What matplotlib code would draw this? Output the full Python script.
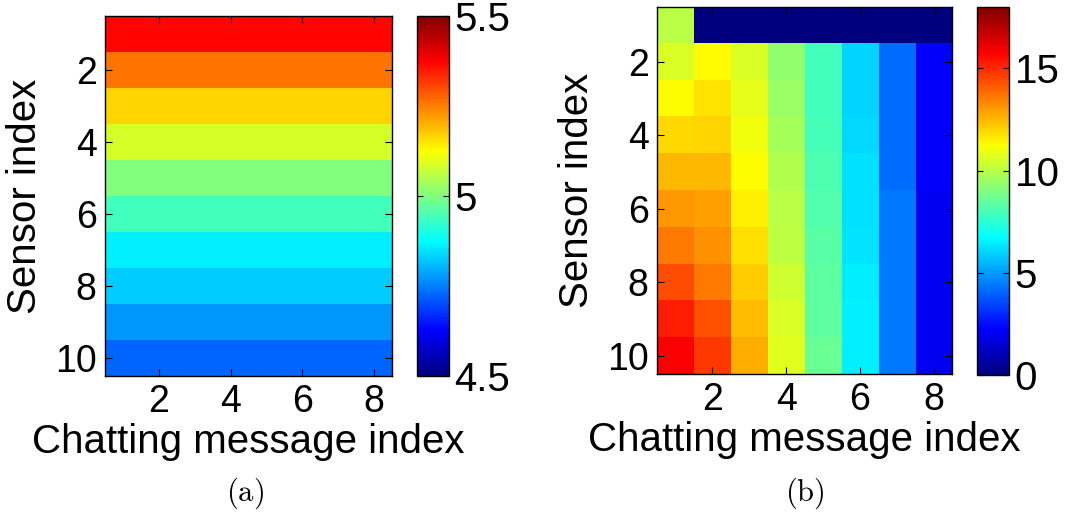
import matplotlib
matplotlib.use('Agg')
import matplotlib.pyplot as plt
from matplotlib.colors import LinearSegmentedColormap
import numpy as np

plt.rcParams['font.family'] = ['Liberation Sans', 'DejaVu Sans']
plt.rcParams['mathtext.fontset'] = 'cm'

# (a): every sensor has the same value for all 8 chatting messages
left_rows = [5.37, 5.26, 5.165, 5.085, 5.0, 4.94, 4.86, 4.825, 4.775, 4.725]
n_msgs = 8

# (b): rows = sensor 1..10, cols = chatting message 1..8
right_vals = [
    [10.0, 0, 0, 0, 0, 0, 0, 0],
    [10.6, 11.25, 10.6, 9.3, 7.9, 6.0, 4.2, 2.2],
    [11.25, 11.7, 10.8, 9.45, 7.9, 6.0, 4.2, 2.2],
    [11.9, 12.0, 11.0, 9.7, 8.0, 6.05, 4.2, 2.2],
    [12.5, 12.5, 11.25, 9.85, 8.1, 6.2, 4.2, 2.2],
    [13.05, 12.9, 11.5, 10.0, 8.2, 6.2, 4.4, 2.1],
    [13.6, 13.2, 11.8, 10.1, 8.3, 6.3, 4.4, 2.1],
    [14.4, 13.6, 12.15, 10.35, 8.4, 6.45, 4.4, 2.1],
    [15.2, 14.3, 12.4, 10.6, 8.4, 6.5, 4.4, 2.1],
    [15.75, 14.7, 12.7, 10.7, 8.64, 6.5, 4.4, 2.1],
]

xticks = [2, 4, 6, 8]
yticks = [2, 4, 6, 8, 10]
fs_lab = 29
fs_tick = 27

# MATLAB-style jet, smoothed
t = np.linspace(0, 1, 256)
mjet = LinearSegmentedColormap.from_list(
    'mjet', np.clip(np.stack([1.5 - np.abs(4 * t - 3),
                              1.5 - np.abs(4 * t - 2),
                              1.5 - np.abs(4 * t - 1)], axis=1), 0, 1), N=256)

fig = plt.figure(figsize=(10.65, 5.17), dpi=100)

ax1 = fig.add_axes([0.0986, 0.2727, 0.2695, 0.6963])
cax1 = fig.add_axes([0.3915, 0.2727, 0.0300, 0.6963])
ax2 = fig.add_axes([0.6169, 0.2766, 0.2770, 0.7099])
cax2 = fig.add_axes([0.9174, 0.2747, 0.0300, 0.7118])

left = np.tile(np.array(left_rows)[:, None], (1, n_msgs))
ext = (0.5, n_msgs + 0.5, len(left_rows) + 0.5, 0.5)
im1 = ax1.imshow(left, cmap=mjet, vmin=4.5, vmax=5.5, aspect='auto',
                 extent=ext, interpolation='nearest')
im2 = ax2.imshow(np.array(right_vals), cmap=mjet, vmin=0, vmax=18,
                 aspect='auto', extent=ext, interpolation='nearest')

for ax in (ax1, ax2):
    ax.set_xticks(xticks)
    ax.set_yticks(yticks)
    ax.tick_params(direction='in', top=True, right=True, length=5,
                   labelsize=fs_tick, pad=6)
    ax.set_xlabel('Chatting message index', fontsize=fs_lab, labelpad=2)
    ax.set_ylabel('Sensor index', fontsize=fs_lab, labelpad=8)
    for s in ax.spines.values():
        s.set_linewidth(1)

cb1 = fig.colorbar(im1, cax=cax1, ticks=[4.5, 5, 5.5])
cb1.ax.set_yticklabels(['4.5', '5', '5.5'])
cb2 = fig.colorbar(im2, cax=cax2, ticks=[0, 5, 10, 15])
for cb in (cb1, cb2):
    cb.ax.tick_params(direction='in', left=True, right=True, length=4,
                      labelsize=fs_tick + 2, pad=4)
    cb.outline.set_linewidth(1)

fig.text(0.230, 0.046, r'$\mathrm{(a)}$', fontsize=22, ha='center', va='center')
fig.text(0.756, 0.046, r'$\mathrm{(b)}$', fontsize=22, ha='center', va='center')

fig.savefig('out.png', dpi=100)
